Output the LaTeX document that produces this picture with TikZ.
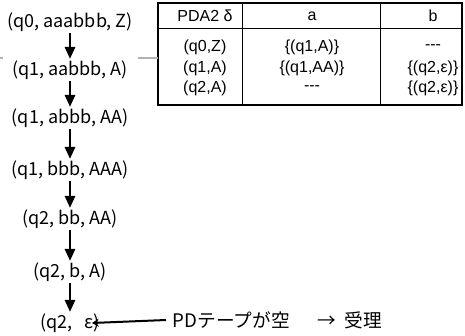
\documentclass[tikz,border=0pt]{standalone}
\usepackage{fontspec}
\setmainfont{Noto Sans CJK JP}
\newfontfamily\tabfont{Liberation Sans}
\usetikzlibrary{arrows.meta}

\begin{document}
\begin{tikzpicture}[x=0.75pt,y=-0.75pt,
  conf/.style={font=\fontsize{13.5}{15}\selectfont,inner sep=1pt},
  cell/.style={font=\tabfont\fontsize{12}{14}\selectfont,inner sep=0pt},
  move/.style={line width=2pt,-{Triangle[width=7.5pt,length=9pt]}},
  thin rule/.style={line width=0.75pt},
  thick rule/.style={line width=1.5pt}]
  \def\cx{70};
  \def\tl{158};
  \def\tr{462};
  \def\tt{3};
  \def\tb{105};
  \def\th{28};
  \useasboundingbox (0,0) rectangle (465,336);
  % configurations
  \node[conf] (c0) at (\cx,22) {(q0, aaabbb, Z)};
  \node[conf] (c1) at (\cx,70) {(q1, aabbb, A)};
  \node[conf] (c2) at (\cx,118) {(q1, abbb, AA)};
  \node[conf] (c3) at (\cx,170) {(q1, bbb, AAA)};
  \node[conf] (c4) at (\cx,219) {(q2, bb, AA)};
  \node[conf] (c5) at (\cx,272) {(q2, b, A)};
  \node[conf] (c6) at (\cx,323) {(q2,\ \ \ ε)};
  \foreach \i [evaluate=\i as \j using int(\i+1)] in {0,...,5}
    \draw[move] (c\i) -- (c\j);
  % transition table
  \draw[thin rule] (\tl,\th) -- (\tr,\th);
  \draw[thin rule] (242,\tt) -- (242,\tb);
  \draw[thin rule] (380,\tt) -- (380,\tb);
  \draw[thick rule] (\tl,\tt) rectangle (\tr,\tb);
  \node[cell] (h0) at (205,16) {PDA2 δ};
  \node[cell] (ha) at (312,16) {a};
  \node[cell] (hb) at (433,16) {b};
  \node[cell] (r1) at (205,47) {(q0,Z)};
  \node[cell] (r1a) at (312,47) {\{(q1,A)\}};
  \node[cell] (r1b) at (433,47) {{-}{-}{-}};
  \node[cell] (r2) at (205,68) {(q1,A)};
  \node[cell] (r2a) at (312,68) {\{(q1,AA)\}};
  \node[cell] (r2b) at (433,68) {\{(q2,ε)\}};
  \node[cell] (r3) at (205,88) {(q2,A)};
  \node[cell] (r3a) at (312,88) {{-}{-}{-}};
  \node[cell] (r3b) at (433,88) {\{(q2,ε)\}};
  \coordinate (tw) at (\tl,58);
  \draw[gray!60,line width=1.2pt] (tw) -- ++(-20,0);
  \draw[gray!60,line width=1.2pt] (0,58) -- ++(3,0);
  % acceptance
  \node[conf,font=\fontsize{14}{16}\selectfont,anchor=west,inner sep=5pt] (acc) at (166,320)
    {PDテープが空\hspace{21pt}→\hspace{6pt}受理};
  \draw[line width=1.5pt,-{Stealth[width=6pt,length=5pt]}] (acc.west) -- ([xshift=-7]c6.east);
\end{tikzpicture}
\end{document}
